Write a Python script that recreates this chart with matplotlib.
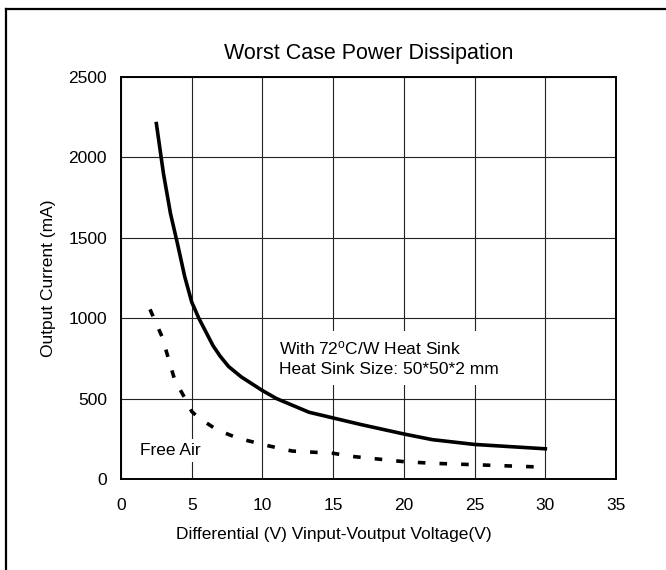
import matplotlib
matplotlib.use('Agg')
import matplotlib.pyplot as plt
from matplotlib.lines import Line2D

plt.rcParams['font.family'] = ['Liberation Sans', 'DejaVu Sans']
plt.rcParams['mathtext.fontset'] = 'custom'
plt.rcParams['mathtext.rm'] = 'Liberation Sans'
plt.rcParams['mathtext.default'] = 'regular'

# heat sink curve (72 C/W)
sink_v = [2.5, 3.0, 3.5, 4.0, 4.5, 5.0, 5.5, 6.0, 6.5, 7.0, 7.6, 8.5, 10.0, 11.0,
          13.3, 17.0, 20.0, 22.0, 25.0, 30.0]
sink_ma = [2210, 1900, 1650, 1460, 1260, 1100, 1000, 915, 830, 765, 700, 635, 550, 500,
           415, 338, 280, 245, 215, 188]

# free air curve
air_v = [2.05, 2.9, 3.35, 3.8, 4.6, 5.0, 5.5, 6.8, 8.3, 10.4, 12.1, 15.0, 16.4, 20.0,
         22.0, 24.0, 29.5]
air_ma = [1055, 885, 750, 615, 490, 420, 380, 305, 253, 207, 174, 160, 140, 108,
          98, 92, 75]

x_ticks = [0, 5, 10, 15, 20, 25, 30, 35]
y_ticks = [0, 500, 1000, 1500, 2000, 2500]

fig = plt.figure(figsize=(6.66, 5.70), dpi=100)
ax = fig.add_axes([0.1817, 0.1596, 0.7433, 0.7054])

ax.plot(sink_v, sink_ma, color='black', lw=2.6, solid_joinstyle='round', zorder=4)
ax.plot(air_v, air_ma, color='black', lw=2.6, linestyle=(0, (2.1, 3.9)),
        dash_capstyle='butt', zorder=4)

ax.set_xlim(0, 35)
ax.set_ylim(0, 2500)
ax.set_xticks(x_ticks)
ax.set_yticks(y_ticks)
ax.grid(True, color='#222222', lw=0.8)
ax.set_axisbelow(True)
ax.tick_params(length=0, labelsize=12.5)
ax.tick_params(axis='x', pad=14)
ax.tick_params(axis='y', pad=10)
for side in ax.spines:
    ax.spines[side].set_linewidth(1.4)

ax.set_title('Worst Case Power Dissipation', fontsize=15.5, pad=13)
ax.set_ylabel('Output Current (mA)', fontsize=12.5, labelpad=9)
fig.text(334 / 666, 1 - 535 / 570, 'Differential (V) Vinput-Voutput Voltage(V)',
         fontsize=12.5, ha='center', va='center')

ax.text(11.2, 752, 'With 72$^{o}$C/W Heat Sink\nHeat Sink Size: 50*50*2 mm',
        fontsize=12.5, ha='left', va='center', linespacing=1.35, zorder=3,
        bbox=dict(facecolor='white', edgecolor='none', pad=6))
ax.text(1.34, 149, 'Free Air', fontsize=12.5, ha='left', va='baseline', zorder=3,
        bbox=dict(facecolor='white', edgecolor='none', pad=3))

# frame lines on top and left of the figure
fig.add_artist(Line2D([6 / 666, 1], [1 - 9 / 570, 1 - 9 / 570], color='black', lw=1.6))
fig.add_artist(Line2D([6 / 666, 6 / 666], [0, 1 - 9 / 570], color='black', lw=1.6))

fig.savefig('out.png', dpi=100)
